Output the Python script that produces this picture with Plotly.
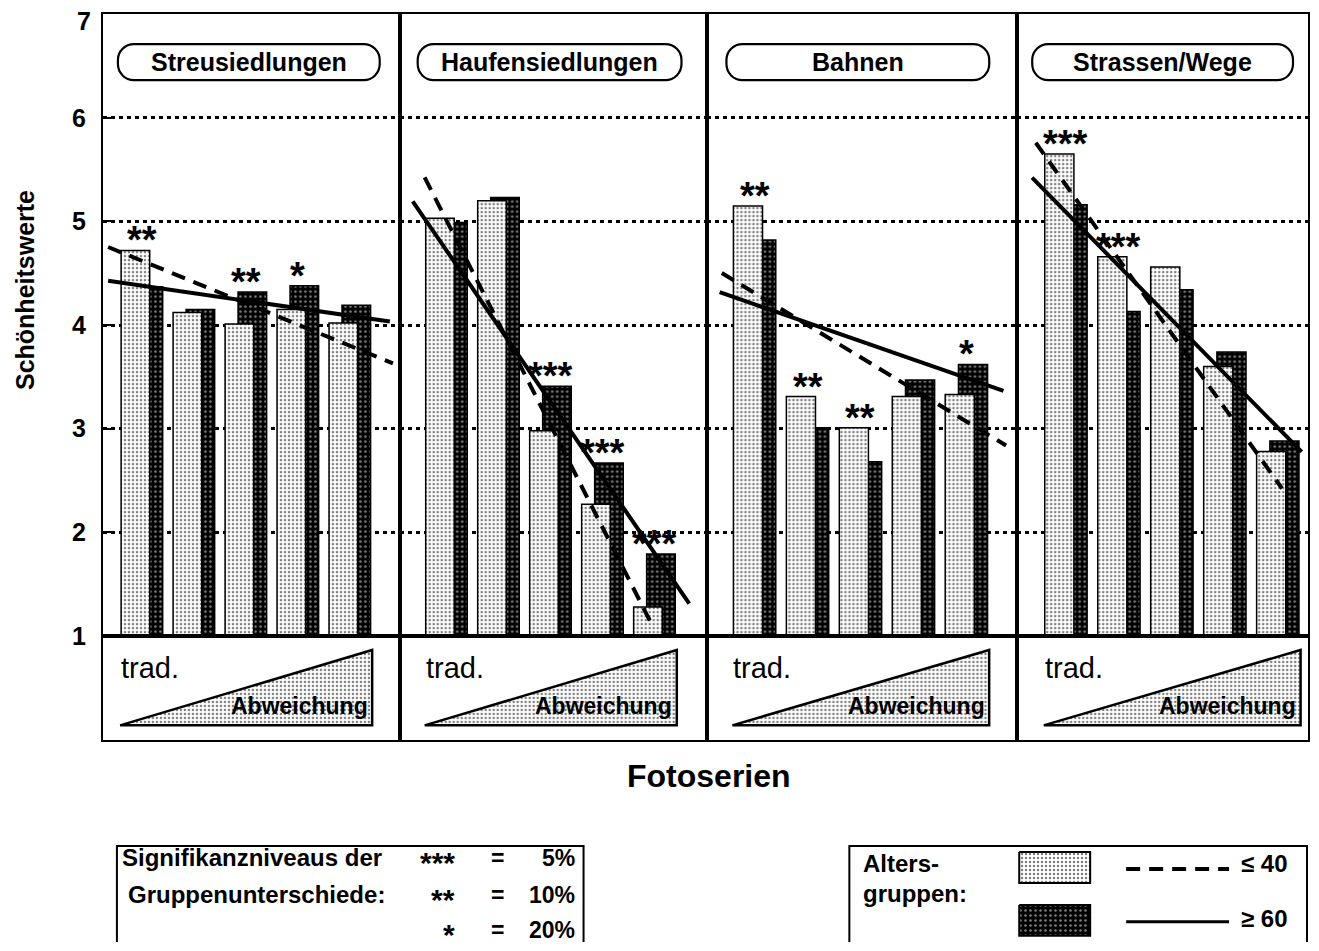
import plotly.graph_objects as go

# ---------------- data ----------------
panel_names = ["Streusiedlungen", "Haufensiedlungen", "Bahnen", "Strassen/Wege"]
series_pos = [0, 1, 2, 3, 4]          # 5 Fotoserien per panel: trad. -> Abweichung
y_ticks = [1, 2, 3, 4, 5, 6, 7]

streu_le40 = [4.72, 4.12, 4.01, 4.15, 4.02]
streu_ge60 = [4.37, 4.15, 4.32, 4.38, 4.19]
haufen_le40 = [5.03, 5.20, 2.98, 2.27, 1.28]
haufen_ge60 = [4.99, 5.23, 3.41, 2.67, 1.79]
bahnen_le40 = [5.15, 3.31, 3.01, 3.31, 3.33]
bahnen_ge60 = [4.82, 3.01, 2.68, 3.47, 3.62]
strassen_le40 = [5.65, 4.66, 4.56, 3.60, 2.78]
strassen_ge60 = [5.16, 4.13, 4.34, 3.74, 2.88]

streu_sig = ["**", "", "**", "*", ""]
haufen_sig = ["", "", "***", "***", "***"]
bahnen_sig = ["**", "**", "**", "", "*"]
strassen_sig = ["***", "***", "", "", ""]

# trend lines: value at first (x=0) and last (x=4) photo series
trend_le40_first = [4.62, 5.01, 4.31, 5.35]
trend_le40_last = [3.80, 1.06, 3.07, 2.48]
trend_ge60_first = [4.38, 4.72, 4.20, 5.09]
trend_ge60_last = [4.09, 1.80, 3.49, 3.01]

le40_by_panel = [streu_le40, haufen_le40, bahnen_le40, strassen_le40]
ge60_by_panel = [streu_ge60, haufen_ge60, bahnen_ge60, strassen_ge60]
sig_by_panel = [streu_sig, haufen_sig, bahnen_sig, strassen_sig]

# ---------------- layout configuration ----------------
OFF = 8                      # default body margin of the html page
YS = 965 / 951               # vertical factor of the captured page
FW, FH = 1302, 948
FONT = "Liberation Sans, Arial, sans-serif"
PANEL_PX = [(103, 400), (400, 708), (708, 1018), (1018, 1309)]
X_RANGES = [(-0.75, 4.96), (-0.90, 5.02), (-0.89, 4.96), (-0.92, 4.57)]
TOP_PX, MID_PX, BOT_PX = 14, 636, 740
TREND_LE40_SPAN = [(-0.65, 4.83), (-0.42, 3.95), (-0.62, 4.75), (-0.57, 4.08)]
TREND_GE60_SPAN = [(-0.65, 4.77), (-0.65, 4.67), (-0.66, 4.70), (-0.64, 4.45)]
PILL_PX = [(118, 380), (418, 682), (727, 990), (1033, 1294)]
PILL_Y = (44, 80)

LIGHT_PAT = dict(shape=".", fgcolor="black", bgcolor="white", size=4, solidity=0.3)
DARK_PAT = dict(shape=".", fgcolor="white", bgcolor="black", size=5, solidity=0.2)


def fx(px):
    return (px - OFF) / FW


def fy(py):
    return 1 - (py * YS - OFF) / FH


fig = go.Figure()
layout = {}
annotations = []
shapes = []


def ax_id(n):
    return "" if n == 1 else str(n)


TICK_FONT = dict(family=FONT, size=25, color="black", weight="bold")

for k in range(4):
    n_top, n_bot = k + 1, k + 5
    xd = [fx(PANEL_PX[k][0]), fx(PANEL_PX[k][1])]
    frame = dict(showline=True, mirror=True, linecolor="black", linewidth=2.2,
                 zeroline=False, fixedrange=True)
    layout["xaxis" + ax_id(n_top)] = dict(domain=xd, range=list(X_RANGES[k]), anchor="y" + ax_id(n_top),
                                          showticklabels=False, ticks="", showgrid=False, **frame)
    layout["yaxis" + ax_id(n_top)] = dict(
        domain=[fy(MID_PX), fy(TOP_PX)], range=[1, 7.0005], anchor="x" + ax_id(n_top),
        tickvals=y_ticks, ticktext=[str(v) if v < 7 else "" for v in y_ticks],
        showgrid=True, gridcolor="black", griddash="4px,4px", gridwidth=2.5,
        showticklabels=(k == 0), ticks="inside" if k == 0 else "", ticklen=8, tickwidth=2,
        tickcolor="black", ticklabelstandoff=10, tickfont=TICK_FONT, **frame)
    layout["xaxis" + ax_id(n_bot)] = dict(domain=xd, range=list(X_RANGES[k]), anchor="y" + ax_id(n_bot),
                                          showticklabels=False, ticks="", showgrid=False, **frame)
    layout["yaxis" + ax_id(n_bot)] = dict(domain=[fy(BOT_PX), fy(MID_PX)], range=[0, 1],
                                          anchor="x" + ax_id(n_bot), showticklabels=False,
                                          ticks="", showgrid=False, **frame)

    xa, ya = "x" + ax_id(n_top), "y" + ax_id(n_top)
    # dark (>=60) bars behind, light (<=40) bars in front
    fig.add_trace(go.Bar(x=series_pos, y=ge60_by_panel[k], offset=-0.15, width=0.55,
                         marker=dict(color="black", pattern=DARK_PAT, line=dict(color="black", width=1.5)),
                         xaxis=xa, yaxis=ya, showlegend=False))
    fig.add_trace(go.Bar(x=series_pos, y=le40_by_panel[k], offset=-0.40, width=0.55,
                         marker=dict(color="white", pattern=LIGHT_PAT, line=dict(color="black", width=1.5)),
                         xaxis=xa, yaxis=ya, showlegend=False))

    # trend lines
    for first, last, span, dash in [
        (trend_le40_first[k], trend_le40_last[k], TREND_LE40_SPAN[k], "14px,9px"),
        (trend_ge60_first[k], trend_ge60_last[k], TREND_GE60_SPAN[k], "solid"),
    ]:
        slope = (last - first) / (series_pos[-1] - series_pos[0])
        xs = list(span)
        ys = [first + slope * (x - series_pos[0]) for x in xs]
        fig.add_trace(go.Scatter(x=xs, y=ys, mode="lines", line=dict(color="black", width=4, dash=dash),
                                 xaxis=xa, yaxis=ya, showlegend=False, hoverinfo="skip"))

    # significance stars
    for i, s in enumerate(sig_by_panel[k]):
        if s:
            annotations.append(dict(x=series_pos[i], y=max(le40_by_panel[k][i], ge60_by_panel[k][i]),
                                    xref=xa, yref=ya, text=s, showarrow=False, yanchor="bottom",
                                    yshift=-13, font=dict(family=FONT, size=38, color="black", weight="bold")))

    # lower strip: triangle trad. -> Abweichung
    xb, yb = "x" + ax_id(n_bot), "y" + ax_id(n_bot)
    fig.add_trace(go.Scatter(x=[-0.42, 4.43, 4.43, -0.42], y=[0.14, 0.865, 0.14, 0.14],
                             mode="lines", fill="toself", fillcolor="white", fillpattern=LIGHT_PAT,
                             line=dict(color="black", width=2.5), xaxis=xb, yaxis=yb,
                             showlegend=False, hoverinfo="skip"))
    annotations.append(dict(x=-0.44, y=0.69, xref=xb, yref=yb, text="trad.", showarrow=False,
                            xanchor="left", yanchor="middle", font=dict(family=FONT, size=29, color="black")))
    annotations.append(dict(x=4.38, y=0.33, xref=xb, yref=yb, text="Abweichung", showarrow=False,
                            xanchor="right", yanchor="middle",
                            font=dict(family=FONT, size=23, color="black", weight="bold")))

# overlay axes in (reference) pixel units for decorations
layout["xaxis9"] = dict(domain=[0, 1], range=[OFF, OFF + FW], anchor="y9", visible=False, fixedrange=True)
layout["yaxis9"] = dict(domain=[0, 1], range=[(FH + OFF) / YS, OFF / YS], anchor="x9", visible=False,
                        fixedrange=True)

# top tick label "7" (it sits at the very top edge of the page)
annotations.append(dict(x=93, y=21, xref="x9", yref="y9", text="7", showarrow=False, xanchor="right",
                        font=TICK_FONT))


def rounded(x0, x1, y0, y1, r):
    c = 0.5523 * r
    return (f"M {x0 + r},{y0} L {x1 - r},{y0} C {x1 - r + c},{y0} {x1},{y0 + r - c} {x1},{y0 + r} "
            f"L {x1},{y1 - r} C {x1},{y1 - r + c} {x1 - r + c},{y1} {x1 - r},{y1} "
            f"L {x0 + r},{y1} C {x0 + r - c},{y1} {x0},{y1 - r + c} {x0},{y1 - r} "
            f"L {x0},{y0 + r} C {x0},{y0 + r - c} {x0 + r - c},{y0} {x0 + r},{y0} Z")


for k in range(4):
    x0, x1 = PILL_PX[k]
    shapes.append(dict(type="path", xref="x9", yref="y9", path=rounded(x0, x1, PILL_Y[0], PILL_Y[1], 16),
                       line=dict(color="black", width=2.2), fillcolor="white", layer="above"))
    annotations.append(dict(x=(x0 + x1) / 2, y=(PILL_Y[0] + PILL_Y[1]) / 2, xref="x9", yref="y9",
                            text=panel_names[k], showarrow=False,
                            font=dict(family=FONT, size=25, color="black", weight="bold")))

# axis titles
annotations.append(dict(x=25, y=290, xref="x9", yref="y9", text="Schönheitswerte", textangle=-90,
                        showarrow=False, font=dict(family=FONT, size=25, color="black", weight="bold")))
annotations.append(dict(x=710, y=776, xref="x9", yref="y9", text="Fotoserien", showarrow=False,
                        font=dict(family=FONT, size=32, color="black", weight="bold")))

# legend 1: significance levels
shapes.append(dict(type="rect", xref="x9", yref="y9", x0=117, x1=584, y0=846, y1=970,
                   line=dict(color="black", width=2)))
LEG_FONT = dict(family=FONT, size=23, color="black", weight="bold")
sig_rows = [("***", "5%", 858), ("**", "10%", 895), ("*", "20%", 930)]
annotations.append(dict(x=120, y=858, xref="x9", yref="y9", text="Signifikanzniveaus der", showarrow=False,
                        xanchor="left", font=dict(LEG_FONT, size=24)))
annotations.append(dict(x=257, y=895, xref="x9", yref="y9", text="Gruppenunterschiede:", showarrow=False,
                        xanchor="center", font=dict(LEG_FONT, size=24)))
for stars, pct, yy in sig_rows:
    annotations.append(dict(x=457, y=yy, xref="x9", yref="y9", text=stars, showarrow=False, xanchor="right",
                            yshift=-5, font=dict(family=FONT, size=30, color="black", weight="bold")))
    annotations.append(dict(x=498, y=yy, xref="x9", yref="y9", text="=", showarrow=False, font=LEG_FONT))
    annotations.append(dict(x=577, y=yy, xref="x9", yref="y9", text=pct, showarrow=False, xanchor="right",
                            font=LEG_FONT))

# legend 2: age groups
shapes.append(dict(type="rect", xref="x9", yref="y9", x0=850, x1=1308, y0=846, y1=970,
                   line=dict(color="black", width=2)))
annotations.append(dict(x=862, y=864, xref="x9", yref="y9", text="Alters-", showarrow=False,
                        xanchor="left", font=dict(LEG_FONT, size=24)))
annotations.append(dict(x=862, y=894, xref="x9", yref="y9", text="gruppen:", showarrow=False,
                        xanchor="left", font=dict(LEG_FONT, size=24)))
fig.add_trace(go.Scatter(x=[1020, 1091, 1091, 1020, 1020], y=[852, 852, 883, 883, 852], mode="lines",
                         fill="toself", fillcolor="white", fillpattern=LIGHT_PAT,
                         line=dict(color="black", width=2), xaxis="x9", yaxis="y9",
                         showlegend=False, hoverinfo="skip"))
fig.add_trace(go.Scatter(x=[1020, 1091, 1091, 1020, 1020], y=[905, 905, 936, 936, 905], mode="lines",
                         fill="toself", fillcolor="black", fillpattern=DARK_PAT,
                         line=dict(color="black", width=2), xaxis="x9", yaxis="y9",
                         showlegend=False, hoverinfo="skip"))
fig.add_trace(go.Scatter(x=[1127, 1230], y=[869, 869], mode="lines",
                         line=dict(color="black", width=4, dash="14px,9px"), xaxis="x9", yaxis="y9",
                         showlegend=False, hoverinfo="skip"))
fig.add_trace(go.Scatter(x=[1127, 1230], y=[922, 922], mode="lines",
                         line=dict(color="black", width=3), xaxis="x9", yaxis="y9",
                         showlegend=False, hoverinfo="skip"))
annotations.append(dict(x=1240, y=864, xref="x9", yref="y9", text="≤ 40", showarrow=False,
                        xanchor="left", font=dict(LEG_FONT, size=24)))
annotations.append(dict(x=1240, y=919, xref="x9", yref="y9", text="≥ 60", showarrow=False,
                        xanchor="left", font=dict(LEG_FONT, size=24)))

fig.update_layout(width=FW, height=FH, margin=dict(l=0, r=0, t=0, b=0), autosize=False,
                  paper_bgcolor="white", plot_bgcolor="rgba(0,0,0,0)", barmode="overlay",
                  showlegend=False, annotations=annotations, shapes=shapes, **layout)

fig.write_html("out.html")
